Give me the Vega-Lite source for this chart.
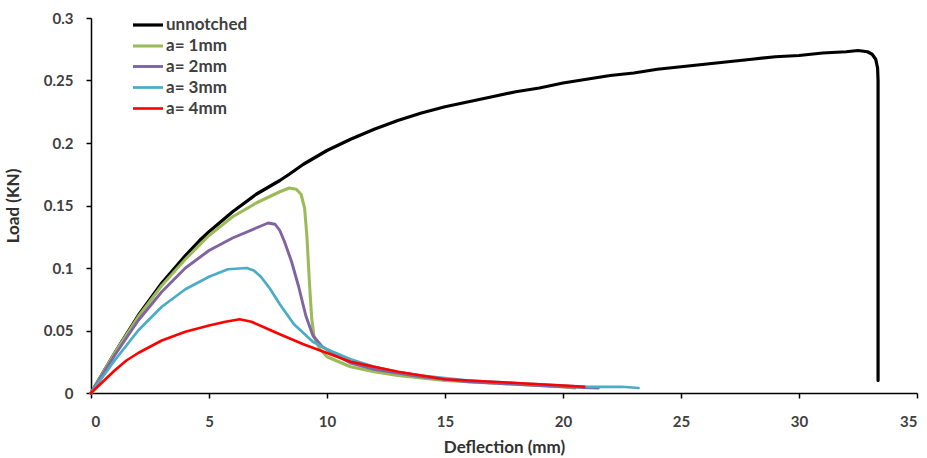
{
  "$schema": "https://vega.github.io/schema/vega-lite/v6.json",
  "width": 826,
  "height": 375,
  "autosize": {"type": "none"},
  "padding": {"left": 91, "top": 18, "right": 10, "bottom": 65},
  "background": "white",
  "config": {
    "view": {"stroke": null},
    "font": "Lato",
    "axis": {"grid": false, "domainColor": "#000000", "domainWidth": 1.5, "tickColor": "#000000", "tickWidth": 1.5, "tickSize": 5, "labelFont": "Lato", "labelFontWeight": "bold", "labelFontSize": 15, "labelColor": "#404040", "titleFont": "Lato", "titleFontWeight": "bold", "titleFontSize": 17, "titleColor": "#303030"}
  },
  "data": {"values": [
    {"s":"unnotched","i":0,"x":0,"y":0},{"s":"unnotched","i":1,"x":0.5,"y":0.016},{"s":"unnotched","i":2,"x":1,"y":0.032},{"s":"unnotched","i":3,"x":2,"y":0.062},{"s":"unnotched","i":4,"x":3,"y":0.088},{"s":"unnotched","i":5,"x":4,"y":0.11},{"s":"unnotched","i":6,"x":4.6,"y":0.122},{"s":"unnotched","i":7,"x":5,"y":0.129},{"s":"unnotched","i":8,"x":6,"y":0.145},{"s":"unnotched","i":9,"x":7,"y":0.159},{"s":"unnotched","i":10,"x":8,"y":0.17},{"s":"unnotched","i":11,"x":8.4,"y":0.175},{"s":"unnotched","i":12,"x":9,"y":0.183},{"s":"unnotched","i":13,"x":10,"y":0.194},{"s":"unnotched","i":14,"x":11,"y":0.203},{"s":"unnotched","i":15,"x":12,"y":0.211},{"s":"unnotched","i":16,"x":13,"y":0.218},{"s":"unnotched","i":17,"x":14,"y":0.224},{"s":"unnotched","i":18,"x":15,"y":0.229},{"s":"unnotched","i":19,"x":16,"y":0.233},{"s":"unnotched","i":20,"x":17,"y":0.237},{"s":"unnotched","i":21,"x":18,"y":0.241},{"s":"unnotched","i":22,"x":19,"y":0.244},{"s":"unnotched","i":23,"x":20,"y":0.248},{"s":"unnotched","i":24,"x":21,"y":0.251},{"s":"unnotched","i":25,"x":22,"y":0.254},{"s":"unnotched","i":26,"x":23,"y":0.256},{"s":"unnotched","i":27,"x":24,"y":0.259},{"s":"unnotched","i":28,"x":25,"y":0.261},{"s":"unnotched","i":29,"x":26,"y":0.263},{"s":"unnotched","i":30,"x":27,"y":0.265},{"s":"unnotched","i":31,"x":28,"y":0.267},{"s":"unnotched","i":32,"x":29,"y":0.269},{"s":"unnotched","i":33,"x":30,"y":0.27},{"s":"unnotched","i":34,"x":31,"y":0.272},{"s":"unnotched","i":35,"x":32,"y":0.273},{"s":"unnotched","i":36,"x":32.5,"y":0.274},{"s":"unnotched","i":37,"x":32.9,"y":0.273},{"s":"unnotched","i":38,"x":33.1,"y":0.271},{"s":"unnotched","i":39,"x":33.25,"y":0.267},{"s":"unnotched","i":40,"x":33.33,"y":0.26},{"s":"unnotched","i":41,"x":33.35,"y":0.25},{"s":"unnotched","i":42,"x":33.35,"y":0.01},
    {"s":"a= 1mm","i":0,"x":0,"y":0},{"s":"a= 1mm","i":1,"x":0.5,"y":0.016},{"s":"a= 1mm","i":2,"x":1,"y":0.032},{"s":"a= 1mm","i":3,"x":2,"y":0.061},{"s":"a= 1mm","i":4,"x":3,"y":0.086},{"s":"a= 1mm","i":5,"x":4,"y":0.107},{"s":"a= 1mm","i":6,"x":5,"y":0.126},{"s":"a= 1mm","i":7,"x":6,"y":0.141},{"s":"a= 1mm","i":8,"x":7,"y":0.152},{"s":"a= 1mm","i":9,"x":8,"y":0.161},{"s":"a= 1mm","i":10,"x":8.4,"y":0.164},{"s":"a= 1mm","i":11,"x":8.7,"y":0.163},{"s":"a= 1mm","i":12,"x":8.9,"y":0.159},{"s":"a= 1mm","i":13,"x":9.05,"y":0.148},{"s":"a= 1mm","i":14,"x":9.15,"y":0.125},{"s":"a= 1mm","i":15,"x":9.25,"y":0.09},{"s":"a= 1mm","i":16,"x":9.35,"y":0.06},{"s":"a= 1mm","i":17,"x":9.45,"y":0.045},{"s":"a= 1mm","i":18,"x":9.7,"y":0.035},{"s":"a= 1mm","i":19,"x":10,"y":0.029},{"s":"a= 1mm","i":20,"x":11,"y":0.021},{"s":"a= 1mm","i":21,"x":12,"y":0.017},{"s":"a= 1mm","i":22,"x":13,"y":0.014},{"s":"a= 1mm","i":23,"x":14,"y":0.012},{"s":"a= 1mm","i":24,"x":15,"y":0.01},{"s":"a= 1mm","i":25,"x":16,"y":0.009},{"s":"a= 1mm","i":26,"x":17,"y":0.008},{"s":"a= 1mm","i":27,"x":18,"y":0.007},{"s":"a= 1mm","i":28,"x":19,"y":0.006},{"s":"a= 1mm","i":29,"x":20,"y":0.005},{"s":"a= 1mm","i":30,"x":20.5,"y":0.004},
    {"s":"a= 2mm","i":0,"x":0,"y":0},{"s":"a= 2mm","i":1,"x":0.5,"y":0.015},{"s":"a= 2mm","i":2,"x":1,"y":0.03},{"s":"a= 2mm","i":3,"x":2,"y":0.058},{"s":"a= 2mm","i":4,"x":3,"y":0.081},{"s":"a= 2mm","i":5,"x":4,"y":0.1},{"s":"a= 2mm","i":6,"x":5,"y":0.114},{"s":"a= 2mm","i":7,"x":6,"y":0.124},{"s":"a= 2mm","i":8,"x":7,"y":0.132},{"s":"a= 2mm","i":9,"x":7.5,"y":0.136},{"s":"a= 2mm","i":10,"x":7.8,"y":0.135},{"s":"a= 2mm","i":11,"x":8.0,"y":0.13},{"s":"a= 2mm","i":12,"x":8.2,"y":0.121},{"s":"a= 2mm","i":13,"x":8.5,"y":0.105},{"s":"a= 2mm","i":14,"x":8.8,"y":0.085},{"s":"a= 2mm","i":15,"x":9.1,"y":0.062},{"s":"a= 2mm","i":16,"x":9.4,"y":0.046},{"s":"a= 2mm","i":17,"x":9.8,"y":0.037},{"s":"a= 2mm","i":18,"x":10.5,"y":0.029},{"s":"a= 2mm","i":19,"x":11,"y":0.024},{"s":"a= 2mm","i":20,"x":12,"y":0.019},{"s":"a= 2mm","i":21,"x":13,"y":0.016},{"s":"a= 2mm","i":22,"x":14,"y":0.013},{"s":"a= 2mm","i":23,"x":15,"y":0.011},{"s":"a= 2mm","i":24,"x":16,"y":0.009},{"s":"a= 2mm","i":25,"x":17,"y":0.008},{"s":"a= 2mm","i":26,"x":18,"y":0.007},{"s":"a= 2mm","i":27,"x":19,"y":0.006},{"s":"a= 2mm","i":28,"x":20,"y":0.005},{"s":"a= 2mm","i":29,"x":21.5,"y":0.004},
    {"s":"a= 3mm","i":0,"x":0,"y":0},{"s":"a= 3mm","i":1,"x":0.5,"y":0.013},{"s":"a= 3mm","i":2,"x":1,"y":0.026},{"s":"a= 3mm","i":3,"x":2,"y":0.05},{"s":"a= 3mm","i":4,"x":3,"y":0.069},{"s":"a= 3mm","i":5,"x":4,"y":0.083},{"s":"a= 3mm","i":6,"x":5,"y":0.093},{"s":"a= 3mm","i":7,"x":5.8,"y":0.099},{"s":"a= 3mm","i":8,"x":6.6,"y":0.1},{"s":"a= 3mm","i":9,"x":6.9,"y":0.098},{"s":"a= 3mm","i":10,"x":7.2,"y":0.093},{"s":"a= 3mm","i":11,"x":7.6,"y":0.083},{"s":"a= 3mm","i":12,"x":8,"y":0.071},{"s":"a= 3mm","i":13,"x":8.6,"y":0.055},{"s":"a= 3mm","i":14,"x":9.4,"y":0.041},{"s":"a= 3mm","i":15,"x":10,"y":0.035},{"s":"a= 3mm","i":16,"x":11,"y":0.027},{"s":"a= 3mm","i":17,"x":12,"y":0.021},{"s":"a= 3mm","i":18,"x":13,"y":0.017},{"s":"a= 3mm","i":19,"x":14,"y":0.014},{"s":"a= 3mm","i":20,"x":15,"y":0.012},{"s":"a= 3mm","i":21,"x":16,"y":0.01},{"s":"a= 3mm","i":22,"x":17,"y":0.009},{"s":"a= 3mm","i":23,"x":18,"y":0.008},{"s":"a= 3mm","i":24,"x":19,"y":0.007},{"s":"a= 3mm","i":25,"x":20,"y":0.006},{"s":"a= 3mm","i":26,"x":21,"y":0.005},{"s":"a= 3mm","i":27,"x":22.5,"y":0.005},{"s":"a= 3mm","i":28,"x":23.2,"y":0.004},
    {"s":"a= 4mm","i":0,"x":0,"y":0},{"s":"a= 4mm","i":1,"x":0.5,"y":0.009},{"s":"a= 4mm","i":2,"x":1,"y":0.018},{"s":"a= 4mm","i":3,"x":1.5,"y":0.026},{"s":"a= 4mm","i":4,"x":2,"y":0.032},{"s":"a= 4mm","i":5,"x":3,"y":0.042},{"s":"a= 4mm","i":6,"x":4,"y":0.049},{"s":"a= 4mm","i":7,"x":5,"y":0.054},{"s":"a= 4mm","i":8,"x":5.7,"y":0.057},{"s":"a= 4mm","i":9,"x":6.3,"y":0.059},{"s":"a= 4mm","i":10,"x":6.8,"y":0.057},{"s":"a= 4mm","i":11,"x":7.4,"y":0.052},{"s":"a= 4mm","i":12,"x":8,"y":0.047},{"s":"a= 4mm","i":13,"x":9,"y":0.039},{"s":"a= 4mm","i":14,"x":10,"y":0.032},{"s":"a= 4mm","i":15,"x":11,"y":0.025},{"s":"a= 4mm","i":16,"x":12,"y":0.021},{"s":"a= 4mm","i":17,"x":13,"y":0.017},{"s":"a= 4mm","i":18,"x":14,"y":0.014},{"s":"a= 4mm","i":19,"x":15,"y":0.011},{"s":"a= 4mm","i":20,"x":16,"y":0.01},{"s":"a= 4mm","i":21,"x":17,"y":0.009},{"s":"a= 4mm","i":22,"x":18,"y":0.008},{"s":"a= 4mm","i":23,"x":19,"y":0.007},{"s":"a= 4mm","i":24,"x":20,"y":0.006},{"s":"a= 4mm","i":25,"x":20.9,"y":0.005}
  ]},
  "mark": {"type": "line", "strokeJoin": "round", "strokeCap": "round"},
  "encoding": {
    "x": {"field": "x", "type": "quantitative", "scale": {"domain": [0, 35], "nice": false}, "axis": {"values": [0,5,10,15,20,25,30,35], "title": "Deflection (mm)", "labelPadding": 16, "titlePadding": 10}},
    "y": {"field": "y", "type": "quantitative", "scale": {"domain": [0, 0.3], "nice": false}, "axis": {"values": [0,0.05,0.1,0.15,0.2,0.25,0.3], "format": ".2~f", "title": "Load (KN)", "labelPadding": 13, "titlePadding": 21}},
    "order": {"field": "i", "type": "quantitative"},
    "color": {"field": "s", "type": "nominal", "scale": {"domain": ["unnotched", "a= 1mm", "a= 2mm", "a= 3mm", "a= 4mm"], "range": ["#000000", "#9bbb59", "#8064a2", "#4bacc6", "#ff0000"]},
      "legend": {"title": null, "orient": "none", "legendX": 45, "legendY": -5, "padding": 0, "symbolType": "M-1.5,0L1.5,0", "symbolSize": 400, "symbolStrokeWidth": 3, "rowPadding": 1, "labelOffset": 6, "labelFont": "Lato", "labelFontWeight": "bold", "labelFontSize": 17, "labelColor": "#404040"}},
    "strokeWidth": {"field": "s", "type": "nominal", "scale": {"domain": ["unnotched", "a= 1mm", "a= 2mm", "a= 3mm", "a= 4mm"], "range": [3.2, 2.6, 2.6, 2.6, 3.6]}, "legend": null}
  }
}
